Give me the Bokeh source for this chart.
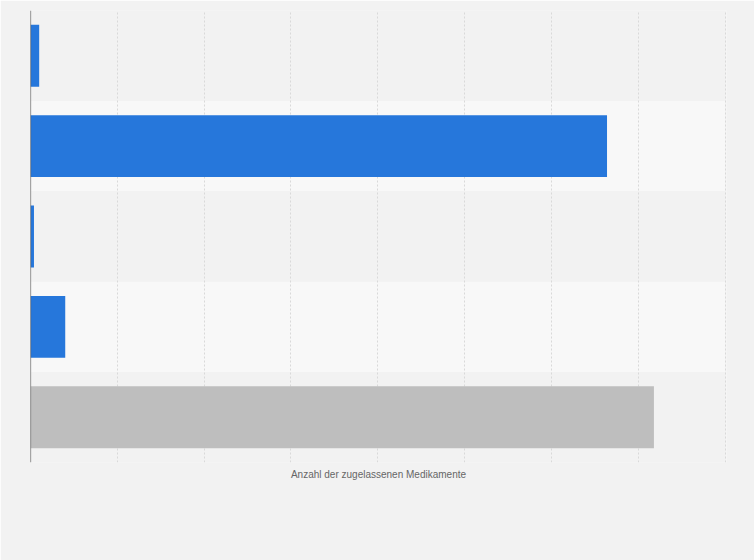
from bokeh.plotting import figure
from bokeh.models import FactorRange, Range1d, SingleIntervalTicker, FixedTicker, Span
from bokeh.embed import file_html
from bokeh.resources import INLINE

categories = ["Kategorie 1", "Kategorie 2", "Kategorie 3", "Kategorie 4", "Gesamt"]
values = [5, 332, 2, 20, 359]
bar_colors = ["#2677db", "#2677db", "#2677db", "#2677db", "#bebebe"]
band_colors = ["#f2f2f2", "#f8f8f8", "#f2f2f2", "#f8f8f8", "#f2f2f2"]
x_max = 400
x_step = 50
x_label = "Anzahl der zugelassenen Medikamente"

p = figure(width=754, height=560, output_backend="svg", toolbar_location=None,
           y_range=FactorRange(*reversed(categories), range_padding=0),
           x_range=Range1d(0, x_max * 1.002),
           min_border_left=30, min_border_right=28, min_border_top=10, min_border_bottom=98)
p.background_fill_color = "#f2f2f2"
p.border_fill_color = "#f2f2f2"
p.outline_line_color = None

# alternating bands
p.hbar(y=categories, right=[x_max] * len(categories), left=0, height=1.0,
       fill_color=band_colors, line_color=None, level="image")

p.hbar(y=categories, right=values, left=0, height=0.685,
       fill_color=bar_colors, line_color=None)

p.ygrid.grid_line_color = None
p.xgrid.ticker = SingleIntervalTicker(interval=x_step)
p.xgrid.grid_line_color = "#d9d9d9"
p.xgrid.grid_line_dash = "2 2"
p.xgrid.grid_line_width = 1
p.xgrid.level = "underlay"

p.xaxis.ticker = FixedTicker(ticks=[])
p.xaxis.axis_label = x_label
p.xaxis.axis_label_text_font = "Liberation Sans"
p.xaxis.axis_label_text_font_size = "10px"
p.xaxis.axis_label_text_font_style = "normal"
p.xaxis.axis_label_text_color = "#666666"
p.xaxis.axis_label_standoff = 6
p.xaxis.axis_line_color = None
p.xaxis.major_tick_line_color = None
p.xaxis.minor_tick_line_color = None
p.xaxis.major_tick_out = 0

p.yaxis.visible = False
p.add_layout(Span(location=0, dimension="height", line_color="#555555", line_width=1.2))

html = file_html(p, INLINE)
html = html.replace("<body>", '<body style="background:#f2f2f2;margin:0">', 1)
open("out.html", "w").write(html)
